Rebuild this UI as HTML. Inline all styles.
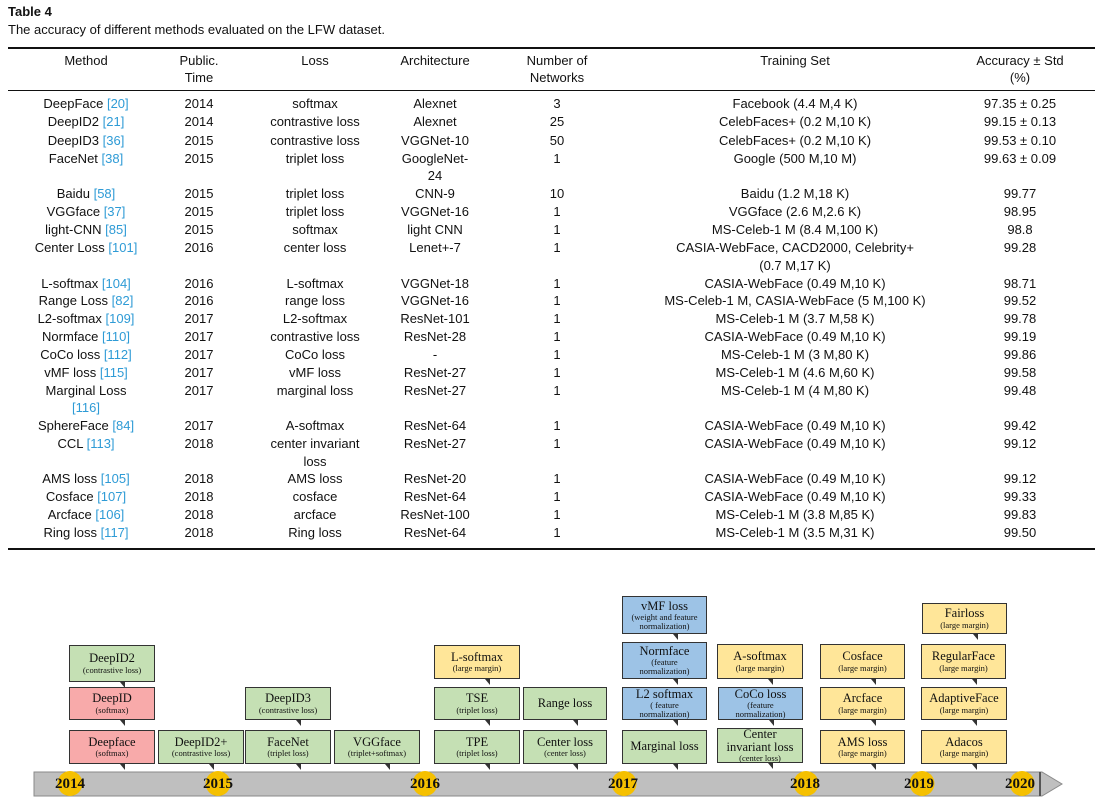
<!DOCTYPE html>
<html><head><meta charset="utf-8"><style>
body{margin:0;width:1102px;height:804px;background:#fff;position:relative;overflow:hidden;font-family:"Liberation Sans",sans-serif;color:#111}
.t{position:absolute;font-size:13px;line-height:18px;white-space:nowrap;transform:translateX(-50%)}
.r{color:#2e9bd6}
.hr{position:absolute;left:8px;width:1087px;background:#111}
.b{position:absolute;border:1.5px solid #333;box-sizing:border-box;font-family:"Liberation Serif",serif;text-align:center;display:flex;flex-direction:column;justify-content:center;line-height:1.05}
.b .m{font-size:12.5px}
.b .s{font-size:8.5px}
.b:after{content:"";position:absolute;bottom:-7px;left:60%;border-left:5px solid transparent;border-right:0 solid transparent;border-top:6px solid #333}
.g{background:#c5e0b4}.p{background:#f8aaaa}.y{background:#ffe699}.u{background:#9dc3e6}
.yr{position:absolute;top:773px;font-family:"Liberation Serif",serif;font-weight:bold;font-size:15px;line-height:22px;transform:translateX(-50%)}
.c{position:absolute;top:771px;width:25px;height:25px;border-radius:50%;background:#f5c000;transform:translateX(-50%)}
</style></head><body>
<div style="position:absolute;left:8px;top:4px;font-weight:bold;font-size:13px">Table 4</div>
<div style="position:absolute;left:8px;top:22px;font-size:13px">The accuracy of different methods evaluated on the LFW dataset.</div>
<div class="hr" style="top:47px;height:1.5px"></div>
<div class="hr" style="top:90px;height:1px"></div>
<div class="hr" style="top:548px;height:1.5px"></div>

<div class="t" style="left:86px;top:52px">Method</div>
<div class="t" style="left:199px;top:52px">Public.</div><div class="t" style="left:199px;top:69px">Time</div>
<div class="t" style="left:315px;top:52px">Loss</div>
<div class="t" style="left:435px;top:52px">Architecture</div>
<div class="t" style="left:557px;top:52px">Number of</div><div class="t" style="left:557px;top:69px">Networks</div>
<div class="t" style="left:795px;top:52px">Training Set</div>
<div class="t" style="left:1020px;top:52px">Accuracy ± Std</div><div class="t" style="left:1020px;top:69px">(%)</div>

<div class="t" style="left:86px;top:95px">DeepFace <span class="r">[20]</span></div><div class="t" style="left:199px;top:95px">2014</div><div class="t" style="left:315px;top:95px">softmax</div><div class="t" style="left:435px;top:95px">Alexnet</div><div class="t" style="left:557px;top:95px">3</div><div class="t" style="left:795px;top:95px">Facebook (4.4 M,4 K)</div><div class="t" style="left:1020px;top:95px">97.35 ± 0.25</div>
<div class="t" style="left:86px;top:113px">DeepID2 <span class="r">[21]</span></div><div class="t" style="left:199px;top:113px">2014</div><div class="t" style="left:315px;top:113px">contrastive loss</div><div class="t" style="left:435px;top:113px">Alexnet</div><div class="t" style="left:557px;top:113px">25</div><div class="t" style="left:795px;top:113px">CelebFaces+ (0.2 M,10 K)</div><div class="t" style="left:1020px;top:113px">99.15 ± 0.13</div>
<div class="t" style="left:86px;top:132px">DeepID3 <span class="r">[36]</span></div><div class="t" style="left:199px;top:132px">2015</div><div class="t" style="left:315px;top:132px">contrastive loss</div><div class="t" style="left:435px;top:132px">VGGNet-10</div><div class="t" style="left:557px;top:132px">50</div><div class="t" style="left:795px;top:132px">CelebFaces+ (0.2 M,10 K)</div><div class="t" style="left:1020px;top:132px">99.53 ± 0.10</div>
<div class="t" style="left:86px;top:150px">FaceNet <span class="r">[38]</span></div><div class="t" style="left:199px;top:150px">2015</div><div class="t" style="left:315px;top:150px">triplet loss</div><div class="t" style="left:435px;top:150px">GoogleNet-</div><div class="t" style="left:557px;top:150px">1</div><div class="t" style="left:795px;top:150px">Google (500 M,10 M)</div><div class="t" style="left:1020px;top:150px">99.63 ± 0.09</div>
<div class="t" style="left:435px;top:167px">24</div>
<div class="t" style="left:86px;top:185px">Baidu <span class="r">[58]</span></div><div class="t" style="left:199px;top:185px">2015</div><div class="t" style="left:315px;top:185px">triplet loss</div><div class="t" style="left:435px;top:185px">CNN-9</div><div class="t" style="left:557px;top:185px">10</div><div class="t" style="left:795px;top:185px">Baidu (1.2 M,18 K)</div><div class="t" style="left:1020px;top:185px">99.77</div>
<div class="t" style="left:86px;top:203px">VGGface <span class="r">[37]</span></div><div class="t" style="left:199px;top:203px">2015</div><div class="t" style="left:315px;top:203px">triplet loss</div><div class="t" style="left:435px;top:203px">VGGNet-16</div><div class="t" style="left:557px;top:203px">1</div><div class="t" style="left:795px;top:203px">VGGface (2.6 M,2.6 K)</div><div class="t" style="left:1020px;top:203px">98.95</div>
<div class="t" style="left:86px;top:221px">light-CNN <span class="r">[85]</span></div><div class="t" style="left:199px;top:221px">2015</div><div class="t" style="left:315px;top:221px">softmax</div><div class="t" style="left:435px;top:221px">light CNN</div><div class="t" style="left:557px;top:221px">1</div><div class="t" style="left:795px;top:221px">MS-Celeb-1 M (8.4 M,100 K)</div><div class="t" style="left:1020px;top:221px">98.8</div>
<div class="t" style="left:86px;top:239px">Center Loss <span class="r">[101]</span></div><div class="t" style="left:199px;top:239px">2016</div><div class="t" style="left:315px;top:239px">center loss</div><div class="t" style="left:435px;top:239px">Lenet+-7</div><div class="t" style="left:557px;top:239px">1</div><div class="t" style="left:795px;top:239px">CASIA-WebFace, CACD2000, Celebrity+</div><div class="t" style="left:1020px;top:239px">99.28</div>
<div class="t" style="left:795px;top:257px">(0.7 M,17 K)</div>
<div class="t" style="left:86px;top:275px">L-softmax <span class="r">[104]</span></div><div class="t" style="left:199px;top:275px">2016</div><div class="t" style="left:315px;top:275px">L-softmax</div><div class="t" style="left:435px;top:275px">VGGNet-18</div><div class="t" style="left:557px;top:275px">1</div><div class="t" style="left:795px;top:275px">CASIA-WebFace (0.49 M,10 K)</div><div class="t" style="left:1020px;top:275px">98.71</div>
<div class="t" style="left:86px;top:292px">Range Loss <span class="r">[82]</span></div><div class="t" style="left:199px;top:292px">2016</div><div class="t" style="left:315px;top:292px">range loss</div><div class="t" style="left:435px;top:292px">VGGNet-16</div><div class="t" style="left:557px;top:292px">1</div><div class="t" style="left:795px;top:292px">MS-Celeb-1 M, CASIA-WebFace (5 M,100 K)</div><div class="t" style="left:1020px;top:292px">99.52</div>
<div class="t" style="left:86px;top:310px">L2-softmax <span class="r">[109]</span></div><div class="t" style="left:199px;top:310px">2017</div><div class="t" style="left:315px;top:310px">L2-softmax</div><div class="t" style="left:435px;top:310px">ResNet-101</div><div class="t" style="left:557px;top:310px">1</div><div class="t" style="left:795px;top:310px">MS-Celeb-1 M (3.7 M,58 K)</div><div class="t" style="left:1020px;top:310px">99.78</div>
<div class="t" style="left:86px;top:328px">Normface <span class="r">[110]</span></div><div class="t" style="left:199px;top:328px">2017</div><div class="t" style="left:315px;top:328px">contrastive loss</div><div class="t" style="left:435px;top:328px">ResNet-28</div><div class="t" style="left:557px;top:328px">1</div><div class="t" style="left:795px;top:328px">CASIA-WebFace (0.49 M,10 K)</div><div class="t" style="left:1020px;top:328px">99.19</div>
<div class="t" style="left:86px;top:346px">CoCo loss <span class="r">[112]</span></div><div class="t" style="left:199px;top:346px">2017</div><div class="t" style="left:315px;top:346px">CoCo loss</div><div class="t" style="left:435px;top:346px">-</div><div class="t" style="left:557px;top:346px">1</div><div class="t" style="left:795px;top:346px">MS-Celeb-1 M (3 M,80 K)</div><div class="t" style="left:1020px;top:346px">99.86</div>
<div class="t" style="left:86px;top:364px">vMF loss <span class="r">[115]</span></div><div class="t" style="left:199px;top:364px">2017</div><div class="t" style="left:315px;top:364px">vMF loss</div><div class="t" style="left:435px;top:364px">ResNet-27</div><div class="t" style="left:557px;top:364px">1</div><div class="t" style="left:795px;top:364px">MS-Celeb-1 M (4.6 M,60 K)</div><div class="t" style="left:1020px;top:364px">99.58</div>
<div class="t" style="left:86px;top:382px">Marginal Loss</div><div class="t" style="left:199px;top:382px">2017</div><div class="t" style="left:315px;top:382px">marginal loss</div><div class="t" style="left:435px;top:382px">ResNet-27</div><div class="t" style="left:557px;top:382px">1</div><div class="t" style="left:795px;top:382px">MS-Celeb-1 M (4 M,80 K)</div><div class="t" style="left:1020px;top:382px">99.48</div>
<div class="t r" style="left:86px;top:399px">[116]</div>
<div class="t" style="left:86px;top:417px">SphereFace <span class="r">[84]</span></div><div class="t" style="left:199px;top:417px">2017</div><div class="t" style="left:315px;top:417px">A-softmax</div><div class="t" style="left:435px;top:417px">ResNet-64</div><div class="t" style="left:557px;top:417px">1</div><div class="t" style="left:795px;top:417px">CASIA-WebFace (0.49 M,10 K)</div><div class="t" style="left:1020px;top:417px">99.42</div>
<div class="t" style="left:86px;top:435px">CCL <span class="r">[113]</span></div><div class="t" style="left:199px;top:435px">2018</div><div class="t" style="left:315px;top:435px">center invariant</div><div class="t" style="left:435px;top:435px">ResNet-27</div><div class="t" style="left:557px;top:435px">1</div><div class="t" style="left:795px;top:435px">CASIA-WebFace (0.49 M,10 K)</div><div class="t" style="left:1020px;top:435px">99.12</div>
<div class="t" style="left:315px;top:453px">loss</div>
<div class="t" style="left:86px;top:470px">AMS loss <span class="r">[105]</span></div><div class="t" style="left:199px;top:470px">2018</div><div class="t" style="left:315px;top:470px">AMS loss</div><div class="t" style="left:435px;top:470px">ResNet-20</div><div class="t" style="left:557px;top:470px">1</div><div class="t" style="left:795px;top:470px">CASIA-WebFace (0.49 M,10 K)</div><div class="t" style="left:1020px;top:470px">99.12</div>
<div class="t" style="left:86px;top:488px">Cosface <span class="r">[107]</span></div><div class="t" style="left:199px;top:488px">2018</div><div class="t" style="left:315px;top:488px">cosface</div><div class="t" style="left:435px;top:488px">ResNet-64</div><div class="t" style="left:557px;top:488px">1</div><div class="t" style="left:795px;top:488px">CASIA-WebFace (0.49 M,10 K)</div><div class="t" style="left:1020px;top:488px">99.33</div>
<div class="t" style="left:86px;top:506px">Arcface <span class="r">[106]</span></div><div class="t" style="left:199px;top:506px">2018</div><div class="t" style="left:315px;top:506px">arcface</div><div class="t" style="left:435px;top:506px">ResNet-100</div><div class="t" style="left:557px;top:506px">1</div><div class="t" style="left:795px;top:506px">MS-Celeb-1 M (3.8 M,85 K)</div><div class="t" style="left:1020px;top:506px">99.83</div>
<div class="t" style="left:86px;top:524px">Ring loss <span class="r">[117]</span></div><div class="t" style="left:199px;top:524px">2018</div><div class="t" style="left:315px;top:524px">Ring loss</div><div class="t" style="left:435px;top:524px">ResNet-64</div><div class="t" style="left:557px;top:524px">1</div><div class="t" style="left:795px;top:524px">MS-Celeb-1 M (3.5 M,31 K)</div><div class="t" style="left:1020px;top:524px">99.50</div>

<svg style="position:absolute;left:0;top:0" width="1102" height="804">
<polygon points="34,772 1042,772 1062,784 1042,796 34,796" fill="#bfbfbf" stroke="#8a8a8a" stroke-width="1"/>
<line x1="1040" y1="772" x2="1040" y2="796" stroke="#555" stroke-width="2"/>
</svg>
<div class="c" style="left:70px"></div><div class="yr" style="left:70px">2014</div>
<div class="c" style="left:218px"></div><div class="yr" style="left:218px">2015</div>
<div class="c" style="left:425px"></div><div class="yr" style="left:425px">2016</div>
<div class="c" style="left:624px"></div><div class="yr" style="left:623px">2017</div>
<div class="c" style="left:806px"></div><div class="yr" style="left:805px">2018</div>
<div class="c" style="left:922px"></div><div class="yr" style="left:919px">2019</div>
<div class="c" style="left:1022px"></div><div class="yr" style="left:1020px">2020</div>

<div class="b g" style="left:69px;top:645px;width:86px;height:37px"><div class="m">DeepID2</div><div class="s">(contrastive loss)</div></div>
<div class="b p" style="left:69px;top:687px;width:86px;height:33px"><div class="m">DeepID</div><div class="s">(softmax)</div></div>
<div class="b p" style="left:69px;top:730px;width:86px;height:34px"><div class="m">Deepface</div><div class="s">(softmax)</div></div>
<div class="b g" style="left:158px;top:730px;width:86px;height:34px"><div class="m">DeepID2+</div><div class="s">(contrastive loss)</div></div>
<div class="b g" style="left:245px;top:687px;width:86px;height:33px"><div class="m">DeepID3</div><div class="s">(contrastive loss)</div></div>
<div class="b g" style="left:245px;top:730px;width:86px;height:34px"><div class="m">FaceNet</div><div class="s">(triplet loss)</div></div>
<div class="b g" style="left:334px;top:730px;width:86px;height:34px"><div class="m">VGGface</div><div class="s">(triplet+softmax)</div></div>
<div class="b y" style="left:434px;top:645px;width:86px;height:34px"><div class="m">L-softmax</div><div class="s">(large margin)</div></div>
<div class="b g" style="left:434px;top:687px;width:86px;height:33px"><div class="m">TSE</div><div class="s">(triplet loss)</div></div>
<div class="b g" style="left:434px;top:730px;width:86px;height:34px"><div class="m">TPE</div><div class="s">(triplet loss)</div></div>
<div class="b g" style="left:523px;top:687px;width:84px;height:33px"><div class="m">Range loss</div></div>
<div class="b g" style="left:523px;top:730px;width:84px;height:34px"><div class="m">Center loss</div><div class="s">(center loss)</div></div>
<div class="b u" style="left:622px;top:596px;width:85px;height:38px"><div class="m">vMF loss</div><div class="s">(weight and feature<br>normalization)</div></div>
<div class="b u" style="left:622px;top:642px;width:85px;height:37px"><div class="m">Normface</div><div class="s">(feature<br>normalization)</div></div>
<div class="b u" style="left:622px;top:687px;width:85px;height:33px"><div class="m">L2 softmax</div><div class="s">( feature<br>normalization)</div></div>
<div class="b g" style="left:622px;top:730px;width:85px;height:34px"><div class="m">Marginal loss</div></div>
<div class="b y" style="left:717px;top:644px;width:86px;height:35px"><div class="m">A-softmax</div><div class="s">(large margin)</div></div>
<div class="b u" style="left:718px;top:687px;width:85px;height:33px"><div class="m">CoCo loss</div><div class="s">(feature<br>normalization)</div></div>
<div class="b g" style="left:717px;top:728px;width:86px;height:35px"><div class="m">Center<br>invariant loss</div><div class="s">(center loss)</div></div>
<div class="b y" style="left:820px;top:644px;width:85px;height:35px"><div class="m">Cosface</div><div class="s">(large margin)</div></div>
<div class="b y" style="left:820px;top:687px;width:85px;height:33px"><div class="m">Arcface</div><div class="s">(large margin)</div></div>
<div class="b y" style="left:820px;top:730px;width:85px;height:34px"><div class="m">AMS loss</div><div class="s">(large margin)</div></div>
<div class="b y" style="left:922px;top:603px;width:85px;height:31px"><div class="m">Fairloss</div><div class="s">(large margin)</div></div>
<div class="b y" style="left:921px;top:644px;width:85px;height:35px"><div class="m">RegularFace</div><div class="s">(large margin)</div></div>
<div class="b y" style="left:921px;top:687px;width:86px;height:33px"><div class="m">AdaptiveFace</div><div class="s">(large margin)</div></div>
<div class="b y" style="left:921px;top:730px;width:86px;height:34px"><div class="m">Adacos</div><div class="s">(large margin)</div></div>
</body></html>
